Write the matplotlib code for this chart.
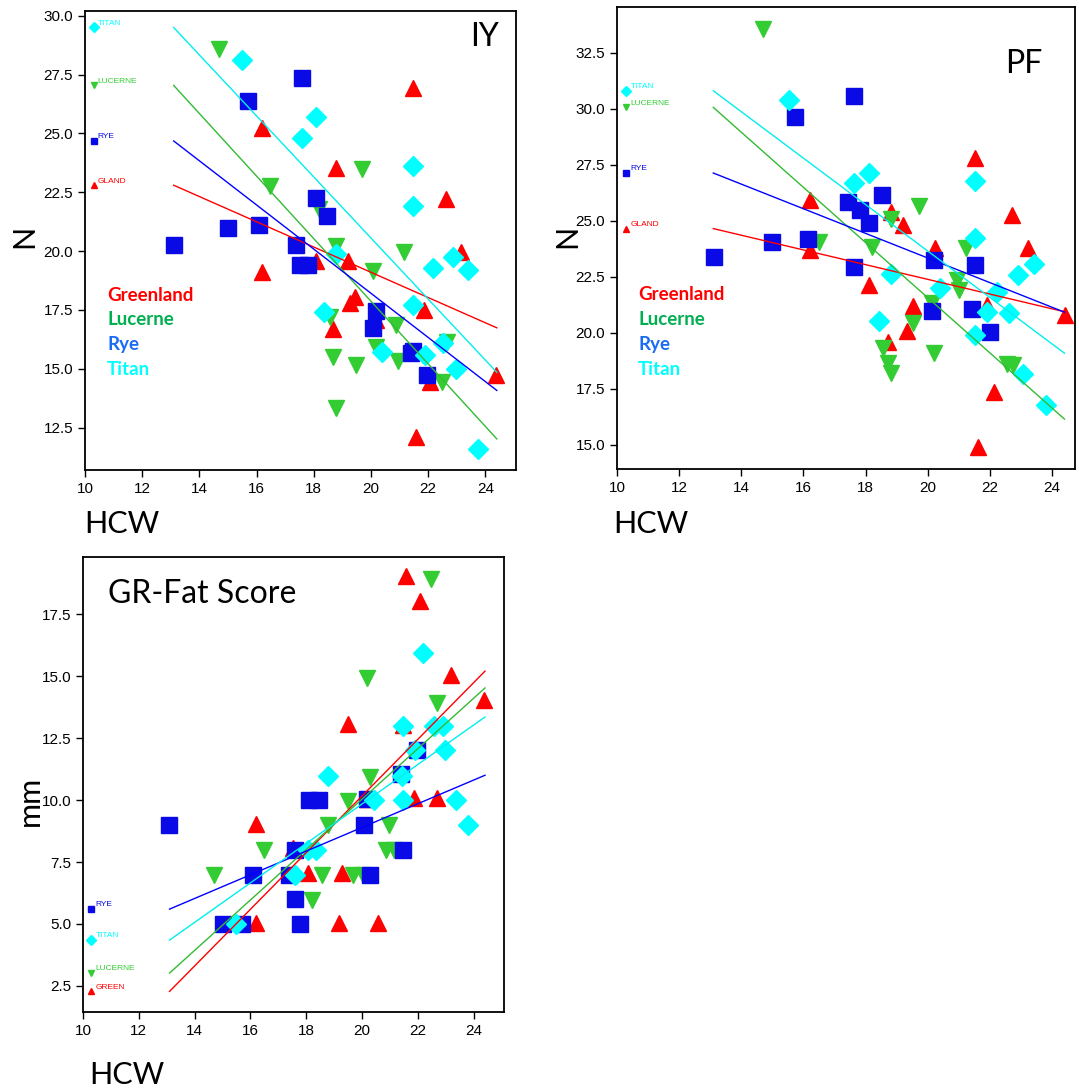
import matplotlib
matplotlib.use("Agg")
import matplotlib.pyplot as plt
from matplotlib.ticker import MultipleLocator, FormatStrFormatter

# ---------------- data ----------------
# IY panel
iy_green_x = [16.19, 16.19, 21.47, 18.78, 22.62, 23.15, 18.08, 19.2, 19.27, 19.44, 20.17, 18.67, 21.85, 22.06, 24.37, 21.57]
iy_green_y = [25.24, 19.1, 26.95, 23.52, 22.23, 19.96, 19.57, 19.57, 17.81, 18.07, 17.08, 16.7, 17.51, 14.46, 14.72, 12.1]
iy_luc_x = [14.69, 16.47, 18.18, 19.69, 21.15, 18.78, 20.07, 18.57, 20.87, 20.17, 18.67, 19.48, 20.94, 22.66, 22.48, 18.78]
iy_luc_y = [28.58, 22.75, 21.8, 23.5, 19.96, 20.2, 19.14, 17.2, 16.87, 15.92, 15.5, 15.15, 15.32, 16.14, 14.42, 13.35]
iy_rye_x = [17.59, 15.7, 18.08, 18.46, 16.08, 14.99, 13.11, 17.38, 17.52, 17.8, 20.17, 20.07, 21.4, 21.47, 21.96]
iy_rye_y = [27.34, 26.39, 22.27, 21.5, 21.12, 20.99, 20.26, 20.26, 19.4, 19.4, 17.47, 16.74, 15.67, 15.75, 14.72]
iy_titan_x = [15.49, 18.08, 17.59, 21.47, 21.47, 18.78, 22.87, 22.17, 23.39, 18.36, 21.47, 22.52, 20.38, 21.89, 22.97, 23.74]
iy_titan_y = [28.11, 25.7, 24.8, 23.6, 21.93, 19.87, 19.74, 19.27, 19.18, 17.42, 17.72, 16.09, 15.7, 15.58, 14.98, 11.59]

# PF panel
pf_green_x = [16.2, 16.2, 18.82, 19.2, 20.23, 21.51, 22.7, 23.22, 18.1, 19.52, 19.33, 18.71, 21.9, 22.12, 21.61, 24.41]
pf_green_y = [25.92, 23.69, 25.4, 24.8, 23.77, 27.79, 25.25, 23.77, 22.12, 21.18, 20.07, 19.58, 21.23, 17.36, 14.9, 20.8]
pf_luc_x = [14.69, 16.5, 18.2, 18.82, 19.71, 21.22, 20.93, 21.0, 20.13, 19.52, 18.55, 18.71, 18.82, 20.2, 22.54, 22.74]
pf_luc_y = [33.56, 24.05, 23.82, 25.1, 25.65, 23.77, 22.34, 21.9, 21.31, 20.42, 19.3, 18.63, 18.19, 19.09, 18.59, 18.54]
pf_rye_x = [17.62, 15.72, 18.52, 17.43, 17.81, 18.1, 16.14, 15.0, 13.11, 20.2, 17.62, 21.51, 20.13, 21.42, 22.0]
pf_rye_y = [30.56, 29.62, 26.14, 25.83, 25.47, 24.89, 24.17, 24.04, 23.37, 23.24, 22.92, 23.01, 20.97, 21.05, 20.03]
pf_titan_x = [15.53, 18.1, 17.62, 21.51, 21.51, 23.42, 18.82, 22.9, 20.39, 22.22, 21.9, 22.61, 18.43, 21.51, 23.07, 23.8]
pf_titan_y = [30.39, 27.13, 26.68, 26.77, 24.22, 23.06, 22.61, 22.56, 21.99, 21.81, 20.92, 20.88, 20.52, 19.89, 18.15, 16.76]

# GR-Fat Score panel
gr_green_x = [21.57, 22.07, 23.17, 24.36, 19.49, 21.47, 21.86, 22.68, 20.17, 16.2, 17.52, 18.05, 19.27, 16.2, 19.17, 20.56]
gr_green_y = [19.03, 18.02, 15.04, 14.03, 13.06, 13.02, 10.08, 10.08, 10.04, 9.03, 8.06, 7.06, 7.06, 5.04, 5.04, 5.04]
gr_luc_x = [22.46, 20.17, 22.68, 20.28, 19.49, 18.77, 20.96, 16.48, 20.85, 21.14, 14.69, 18.55, 19.66, 20.02, 18.19]
gr_luc_y = [18.9, 14.92, 13.91, 10.93, 9.96, 8.99, 8.99, 7.98, 7.98, 7.98, 6.98, 6.98, 6.98, 6.98, 5.97]
gr_rye_x = [18.1, 18.46, 20.17, 21.96, 21.38, 13.07, 20.06, 17.6, 21.46, 16.08, 17.38, 20.28, 17.6, 15.0, 15.69, 17.77]
gr_rye_y = [10.0, 10.0, 10.04, 12.0, 11.05, 8.99, 8.99, 7.98, 7.98, 6.98, 6.98, 6.98, 6.0, 5.0, 5.0, 5.0]
gr_titan_x = [22.18, 22.57, 22.9, 21.47, 22.97, 21.9, 18.77, 21.43, 20.42, 21.47, 23.37, 23.8, 18.05, 18.36, 17.6, 15.47]
gr_titan_y = [15.93, 12.98, 12.98, 12.98, 12.0, 12.0, 10.97, 10.97, 10.0, 10.0, 10.0, 8.99, 7.98, 7.98, 6.98, 5.0]

# fitted lines: value at HCW 13.1 and at 24.4
fit_x = [13.1, 24.4]
iy_fit = {"green": [22.8, 16.74], "luc": [27.04, 12.02], "rye": [24.68, 14.08], "titan": [29.5, 14.85]}
pf_fit = {"green": [24.65, 20.94], "luc": [30.06, 16.15], "rye": [27.13, 20.92], "titan": [30.8, 19.09]}
gr_fit = {"green": [2.28, 15.2], "luc": [3.02, 14.52], "rye": [5.6, 11.0], "titan": [4.35, 13.35]}

groups = ["green", "luc", "rye", "titan"]
mark_col = {"green": "#ff0000", "luc": "#33cc33", "rye": "#0a0ae6", "titan": "#00ffff"}
line_col = {"green": "#ff0000", "luc": "#33bb33", "rye": "#0000ff", "titan": "#00eeee"}
marker = {"green": "^", "luc": "v", "rye": "s", "titan": "D"}
msize = {"green": 12, "luc": 12, "rye": 11, "titan": 10.5}
legend_names = ["Greenland", "Lucerne", "Rye", "Titan"]
legend_cols = ["#ff0000", "#00b050", "#1a6cf5", "#00ffff"]

plt.rcParams["font.family"] = ["Liberation Sans", "DejaVu Sans"]
fig = plt.figure(figsize=(10.79, 10.91), dpi=100)


def panel(rect, data, fit, keys, ylim, xlim, title, title_pos, title_ha, legend_pos):
    ax = fig.add_axes(rect)
    for g in groups:
        x, y = data[g]
        ax.plot(x, y, linestyle="none", marker=marker[g], ms=msize[g],
                color=mark_col[g], mec=mark_col[g], zorder=3)
    for g in groups:
        ax.plot(fit_x, fit[g], color=line_col[g], lw=1.0, zorder=4)
    # small key labels drawn at the start value of each fit
    for g, lab in keys:
        ax.plot([10.3], [fit[g][0]], linestyle="none", marker=marker[g], ms=5,
                color=mark_col[g], zorder=3)
        ax.annotate(lab, (10.3, fit[g][0]), xytext=(3, 3), textcoords="offset points",
                    fontsize=6, color=mark_col[g], va="center", ha="left")
    ax.set_xlim(*xlim)
    ax.set_ylim(*ylim)
    ax.xaxis.set_major_locator(MultipleLocator(2))
    ax.yaxis.set_major_locator(MultipleLocator(2.5))
    ax.yaxis.set_major_formatter(FormatStrFormatter("%.1f"))
    ax.tick_params(labelsize=11, direction="out", length=5, width=1)
    for s in ax.spines.values():
        s.set_linewidth(1.3)
    ax.text(title_pos[0], title_pos[1], title, transform=ax.transAxes, fontsize=23,
            family="Lato", ha=title_ha, va="center")
    if legend_pos is not None:
        for i, (name, c) in enumerate(zip(legend_names, legend_cols)):
            ax.text(legend_pos[0], legend_pos[1] - i * 0.054, name, transform=ax.transAxes,
                    color=c, fontsize=13.5, fontweight="bold", family="Lato",
                    ha="left", va="center")
    return ax


iy_data = {"green": (iy_green_x, iy_green_y), "luc": (iy_luc_x, iy_luc_y),
           "rye": (iy_rye_x, iy_rye_y), "titan": (iy_titan_x, iy_titan_y)}
pf_data = {"green": (pf_green_x, pf_green_y), "luc": (pf_luc_x, pf_luc_y),
           "rye": (pf_rye_x, pf_rye_y), "titan": (pf_titan_x, pf_titan_y)}
gr_data = {"green": (gr_green_x, gr_green_y), "luc": (gr_luc_x, gr_luc_y),
           "rye": (gr_rye_x, gr_rye_y), "titan": (gr_titan_x, gr_titan_y)}

ax1 = panel([0.0788, 0.5692, 0.3994, 0.4207], iy_data, iy_fit,
            [("titan", "TITAN"), ("luc", "LUCERNE"), ("rye", "RYE"), ("green", "GLAND")],
            (10.7, 30.2), (10, 25.07), "IY", (0.926, 0.943), "center", (0.051, 0.381))
ax2 = panel([0.5718, 0.5701, 0.4245, 0.4235], pf_data, pf_fit,
            [("titan", "TITAN"), ("luc", "LUCERNE"), ("rye", "RYE"), ("green", "GLAND")],
            (13.92, 34.54), (10, 24.74), "PF", (0.889, 0.877), "center", (0.046, 0.377))
ax3 = panel([0.0769, 0.0724, 0.3902, 0.4170], gr_data, gr_fit,
            [("rye", "RYE"), ("titan", "TITAN"), ("luc", "LUCERNE"), ("green", "GREEN")],
            (1.45, 19.8), (10, 25.08), "GR-Fat Score", (0.059, 0.919), "left", None)

# axis titles placed like the original (outside the frames)
lab = dict(fontsize=22, family="Lato")
fig.text(24 / 1079, 1 - 236 / 1091, "N", rotation=90, ha="center", va="center", **lab)
fig.text(567 / 1079, 1 - 236 / 1091, "N", rotation=90, ha="center", va="center", **lab)
fig.text(30 / 1079, 1 - 801 / 1091, "mm", rotation=90, ha="center", va="center", **lab)
fig.text(122 / 1079, 1 - 524 / 1091, "HCW", ha="center", va="center", **lab)
fig.text(651 / 1079, 1 - 524 / 1091, "HCW", ha="center", va="center", **lab)
fig.text(127 / 1079, 1 - 1075 / 1091, "HCW", ha="center", va="center", **lab)

fig.savefig("out.png", dpi=100)
